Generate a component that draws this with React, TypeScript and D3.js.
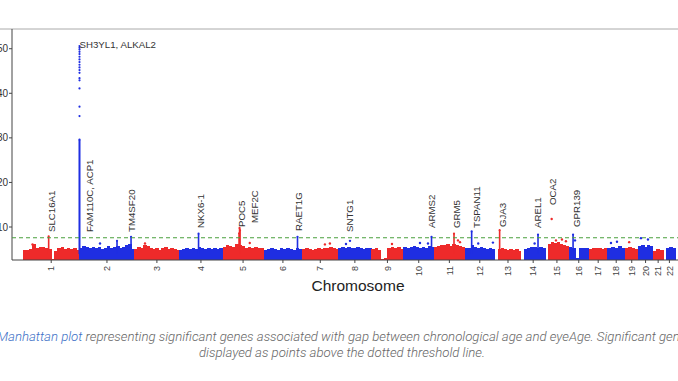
import React from "react";
import * as d3 from "d3";

// ---------- DATA ----------
const CHROMS = ["1","2","3","4","5","6","7","8","9","10","11","12","13","14","15","16","17","18","19","20","21","22"];
// chromosome lengths (Mb)
const CHROM_LENGTHS = [249.25,243.2,198.0,191.15,180.9,171.1,159.1,146.4,141.2,135.5,135.0,133.85,115.2,107.35,102.5,90.35,81.2,78.1,59.1,63.0,48.1,51.3];

// top of the dense band of points (-log10 p) in evenly spaced bins along each chromosome; 0 = no data
const BAND_HEIGHTS: number[][] = [
  [4.8,4.9,5.0,6.3,5.4,5.6,5.5,5.3,5.0,2.9,4.6,5.2,5.6,5.1,5.4,5.0,5.2,4.9],
  [5.4,5.8,5.5,5.3,5.6,5.2,5.5,5.0,5.4,5.7,5.2,5.5,5.8,5.3,5.6,5.9,6.2,5.0],
  [5.0,5.6,5.3,6.0,5.8,5.4,5.0,5.2,4.9,5.3,5.6,5.1,5.4,5.0,4.8],
  [4.8,5.0,5.2,5.0,5.3,5.1,5.5,5.2,5.0,5.4,5.1,5.3,5.0,5.2],
  [5.6,6.0,5.8,5.5,6.2,6.0,5.8,5.4,5.6,5.3,5.5,5.2,5.4],
  [4.8,5.0,5.2,5.1,4.9,5.4,5.0,5.3,5.1,4.9,5.2,5.0],
  [5.0,5.2,5.0,4.9,5.1,5.3,5.0,5.2,5.4,5.6,5.3,5.1],
  [5.4,5.6,5.3,5.5,5.2,5.4,5.6,5.3,5.1,5.4,5.2],
  [5.1,5.3,4.9,2.8,3.0,5.4,5.6,5.2,5.5,5.0],
  [5.5,5.4,5.6,5.8,5.5,5.3,5.6,5.4,5.7,5.5],
  [5.6,5.8,5.9,6.0,6.1,5.8,6.3,6.0,5.7,5.5],
  [5.2,5.4,6.0,5.6,5.3,5.5,5.2,5.0,5.3,5.1],
  [0,5.0,5.3,5.0,4.9,5.1,4.8,5.0,4.7],
  [0,5.0,5.4,5.6,5.5,5.3,5.5,5.2],
  [0,6.3,6.7,6.4,6.6,6.2,5.9,5.7],
  [5.6,5.4,3.0,5.2,5.4,5.3],
  [5.0,5.3,5.2,5.4,5.1,5.3],
  [5.2,5.6,5.4,5.8,5.3],
  [5.3,5.6,5.2,5.0],
  [5.8,6.0,5.6,5.9,5.7],
  [4.6,5.1,4.9],
  [0,5.3,5.6,5.4],
];

// thin spikes of stacked points: chromosome, position (Mb), top value
const SPIKE_CHR = [1,2,2,2,4,5,5,5,6,10,11,12,13,14,16];
const SPIKE_POS = [113.4,0.3,166,228,85,73,75,77,150,124.2,88,31,20.7,75,20];
const SPIKE_TOP = [7.9,29.6,6.9,7.8,8.5,8.6,9.8,9.3,7.8,7.8,8.5,9.0,9.3,8.3,8.3];

// isolated points of the chromosome 2 top hit
const TOP_HIT_CHR = 2;
const TOP_HIT_POS = 0.3;
const TOP_HIT_VALUES = [50.6,50.2,49.8,49.3,48.8,48.2,47.6,47.0,46.4,45.8,45.2,44.6,43.4,42.9,41.1,37.0,34.9];

// scattered single points above the band
const DOT_CHR = [8,8,11,11,12,15,15,15,15,16,18,18,19,20,20,3,7,7,2,9,10,10,1,5,12,14];
const DOT_POS = [51.6,34,105.6,114.4,125,28,47,73.5,91,28.6,15.9,42.4,18.2,11.2,42.1,46.4,100,122,90.9,90.8,73.2,108.5,42,120,60,60];
const DOT_VAL = [6.9,6.2,7.0,6.6,6.5,11.8,7.0,7.2,6.8,7.0,6.4,6.7,6.6,7.5,7.2,6.3,6.1,6.3,6.3,6.2,6.4,6.3,6.1,6.4,6.3,6.3];

const THRESHOLD = 7.6;
const Y_TICKS = [10,20,30,40,50];

const GENE_NAMES = ["SLC16A1","FAM110C, ACP1","TM4SF20","NKX6-1","POC5","MEF2C","RAET1G","SNTG1","ARMS2","GRM5","TSPAN11","GJA3","AREL1","OCA2","GPR139"];
const GENE_CHR = [1,2,2,4,5,5,6,8,10,11,12,13,14,15,16];
const GENE_POS = [113.4,0.04,228,85,75,88,150,51,124.2,88,31,20.7,75,28,20];
const TOP_GENE_LABEL = "SH3YL1, ALKAL2";

const CAPTION_LINK = "Manhattan plot";
const CAPTION_LINE1 = " representing significant genes associated with gap between chronological age and eyeAge. Significant genes are";
const CAPTION_LINE2 = "displayed as points above the dotted threshold line.";

// ---------- LAYOUT ----------
const W = 678, H = 381;
const PLOT = { left: 12, right: 678, top: 30, bottom: 260, dataLeft: 23, dataRight: 675.2 };
const Y_DOMAIN = [2.6, 54.2];
// label nudges: [dx px, bottom y px]
const LABEL_LAYOUT: [number, number][] = [
  [3.3,232],[10.6,232],[1,232],[2.4,228],[2.4,227],[12.5,223],[1.5,231],[0,232],[0.5,228],[3,228],[5.3,228],[3.3,227],[0,228],[1.3,205],[4,227],
];
const RED = "#ee2a2a";
const BLUE = "#1f2ee2";
const LABEL_FONT = "'Liberation Sans', Arial, sans-serif";
const CAPTION_FONT = "Roboto, sans-serif";

export default function App() {
  const offsets = [0, ...Array.from(d3.cumsum(CHROM_LENGTHS))];
  const total = offsets[offsets.length - 1];
  const x = d3.scaleLinear().domain([0, total]).range([PLOT.dataLeft, PLOT.dataRight]);
  const y = d3.scaleLinear().domain(Y_DOMAIN).range([PLOT.bottom, PLOT.top]);
  const gx = (chr: number, pos: number) => x(offsets[chr - 1] + pos);
  const color = (chr: number) => (chr % 2 === 1 ? RED : BLUE);
  const base = y(Y_DOMAIN[0]);

  const bands: React.ReactNode[] = [];
  BAND_HEIGHTS.forEach((hs, i) => {
    const len = CHROM_LENGTHS[i];
    const bw = len / hs.length;
    hs.forEach((h, j) => {
      if (!h) return;
      const x0 = x(offsets[i] + j * bw);
      const x1 = x(offsets[i] + (j + 1) * bw);
      bands.push(
        <rect key={`b${i}-${j}`} x={x0} y={y(h)} width={x1 - x0 + 0.4} height={base - y(h)} fill={color(i + 1)} shapeRendering="crispEdges" />
      );
    });
  });

  const spikes = SPIKE_CHR.map((c, i) => {
    const xx = gx(c, SPIKE_POS[i]);
    const big = SPIKE_TOP[i] > 20;
    return (
      <g key={`s${i}`}>
        <rect x={xx - (big ? 1 : 0.8)} y={y(SPIKE_TOP[i])} width={big ? 2 : 1.6} height={base - 6 - y(SPIKE_TOP[i])} fill={color(c)} />
        <circle cx={xx} cy={y(SPIKE_TOP[i])} r={1.1} fill={color(c)} />
      </g>
    );
  });

  const topHit = TOP_HIT_VALUES.map((v, i) => (
    <circle key={`t${i}`} cx={gx(TOP_HIT_CHR, TOP_HIT_POS)} cy={y(v)} r={1.1} fill={color(TOP_HIT_CHR)} />
  ));

  const dots = DOT_CHR.map((c, i) => (
    <circle key={`d${i}`} cx={gx(c, DOT_POS[i])} cy={y(DOT_VAL[i])} r={1.2} fill={color(c)} />
  ));

  const labels = GENE_NAMES.map((g, i) => {
    const lx = gx(GENE_CHR[i], GENE_POS[i]) + LABEL_LAYOUT[i][0];
    const ly = LABEL_LAYOUT[i][1];
    return (
      <text key={`l${i}`} x={lx} y={ly} dy="0.35em" transform={`rotate(-90 ${lx} ${ly})`} fontFamily={LABEL_FONT} fontSize={9.7} fill="#333">
        {g}
      </text>
    );
  });

  return (
    <svg width={W} height={H} style={{ position: "absolute", left: 0, top: 0, background: "#fff" }}>
      {/* frame */}
      <line x1={0} x2={W} y1={PLOT.top - 1} y2={PLOT.top - 1} stroke="#aaa" strokeWidth={1} />
      <line x1={PLOT.left} x2={PLOT.left} y1={PLOT.top - 1} y2={PLOT.bottom} stroke="#444" strokeWidth={1} />
      {/* y ticks */}
      {Y_TICKS.map((t) => (
        <g key={`yt${t}`}>
          <line x1={PLOT.left - 3} x2={PLOT.left} y1={y(t)} y2={y(t)} stroke="#444" />
          <text x={8} y={y(t)} dy="0.35em" textAnchor="end" fontFamily={LABEL_FONT} fontSize={10} fill="#333">{t}</text>
        </g>
      ))}
      {bands}
      {spikes}
      {topHit}
      {dots}
      {/* threshold */}
      <line x1={PLOT.left} x2={W} y1={y(THRESHOLD)} y2={y(THRESHOLD)} stroke="#4aa03c" strokeWidth={1.1} strokeDasharray="4,3" />
      <line x1={PLOT.left} x2={W} y1={PLOT.bottom} y2={PLOT.bottom} stroke="#444" strokeWidth={1} />
      {/* x ticks */}
      {CHROMS.map((c, i) => {
        const cx = x(offsets[i] + CHROM_LENGTHS[i] / 2);
        return (
          <g key={`xt${c}`}>
            <line x1={cx} x2={cx} y1={PLOT.bottom} y2={PLOT.bottom + 3} stroke="#444" />
            <text x={cx} y={PLOT.bottom + 6} dy="0.35em" textAnchor="end" transform={`rotate(-90 ${cx} ${PLOT.bottom + 6})`} fontFamily={LABEL_FONT} fontSize={9} fill="#444">{c}</text>
          </g>
        );
      })}
      {labels}
      <text x={gx(TOP_HIT_CHR, TOP_HIT_POS)} y={48} fontFamily={LABEL_FONT} fontSize={9.7} fill="#333">{TOP_GENE_LABEL}</text>
      <text x={358} y={291} textAnchor="middle" fontFamily={LABEL_FONT} fontSize={15.5} fill="#222">Chromosome</text>
      {/* caption */}
      <text x={-3} y={341} fontFamily={CAPTION_FONT} fontStyle="italic" fontSize={13.2} fill="#666" fontWeight={300}>
        <tspan fill="#3b6fc6">{CAPTION_LINK}</tspan>
        <tspan>{CAPTION_LINE1}</tspan>
      </text>
      <text x={342} y={357} textAnchor="middle" fontFamily={CAPTION_FONT} fontStyle="italic" fontSize={13.2} fill="#666" fontWeight={300}>
        {CAPTION_LINE2}
      </text>
    </svg>
  );
}
